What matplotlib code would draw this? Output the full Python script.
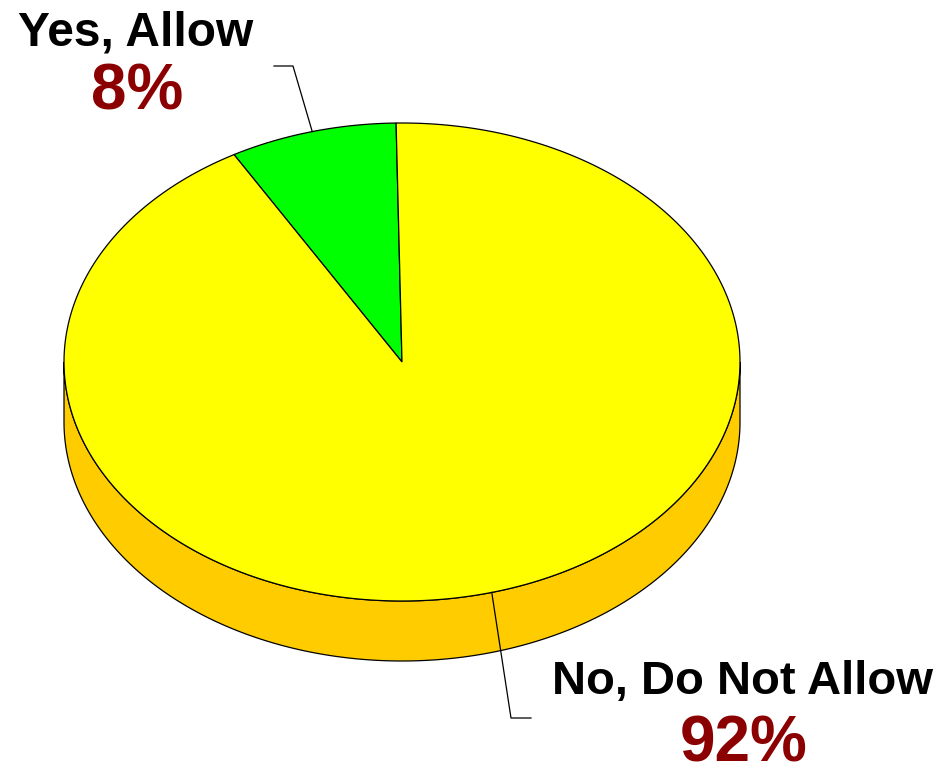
import numpy as np
import matplotlib
matplotlib.use("Agg")
import matplotlib.pyplot as plt
from matplotlib.patches import Polygon

labels = ["Yes, Allow", "No, Do Not Allow"]
values = [8, 92]
pct_labels = ["8%", "92%"]
colors = ["#00FF00", "#FFFF00"]
side_color = "#FFCC00"

W, H = 939, 766
fig = plt.figure(figsize=(W / 100, H / 100), dpi=100)
ax = fig.add_axes([0, 0, 1, 1])
ax.set_xlim(0, W)
ax.set_ylim(H, 0)
ax.axis("off")

cx, cy, rx, ry, depth = 402, 362, 338, 239, 60
start = 91.0

def pt(t, dz=0):
    r = np.radians(t)
    return cx + rx * np.cos(r), cy - ry * np.sin(r) + dz

# side face (front half)
ts = np.linspace(180, 360, 200)
top = [pt(t) for t in ts]
bot = [pt(t, depth) for t in ts[::-1]]
ax.add_patch(Polygon(top + bot, closed=True, facecolor=side_color,
                     edgecolor="black", linewidth=0.9, zorder=1))

# top wedges
total = sum(values)
a = start
mids = []
for v, c in zip(values, colors):
    span = 360.0 * v / total
    ts = np.linspace(a, a + span, 300)
    poly = [(cx, cy)] + [pt(t) for t in ts]
    ax.add_patch(Polygon(poly, closed=True, facecolor=c, edgecolor="black",
                         linewidth=0.9, zorder=2))
    mids.append(a + span / 2)
    a += span

# leader lines
ax1 = pt(mids[0])
ax.plot([ax1[0], 293, 274], [ax1[1], 66, 66], color="black", lw=0.9, zorder=3)
ax2 = pt(mids[1])
ax.plot([ax2[0], 511, 531], [ax2[1], 718, 718], color="black", lw=0.9, zorder=3)

font = "Liberation Sans"
ax.text(136, 33, labels[0], ha="center", va="center", fontsize=34.5,
        fontweight="bold", family=font, color="black")
ax.text(137, 92, pct_labels[0], ha="center", va="center", fontsize=46,
        fontweight="bold", family=font, color="#8B0000")
ax.text(742, 682, labels[1], ha="center", va="center", fontsize=34,
        fontweight="bold", family=font, color="black")
ax.text(744, 744, pct_labels[1], ha="center", va="center", fontsize=46,
        fontweight="bold", family=font, color="#8B0000")

fig.savefig("out.png", dpi=100)
